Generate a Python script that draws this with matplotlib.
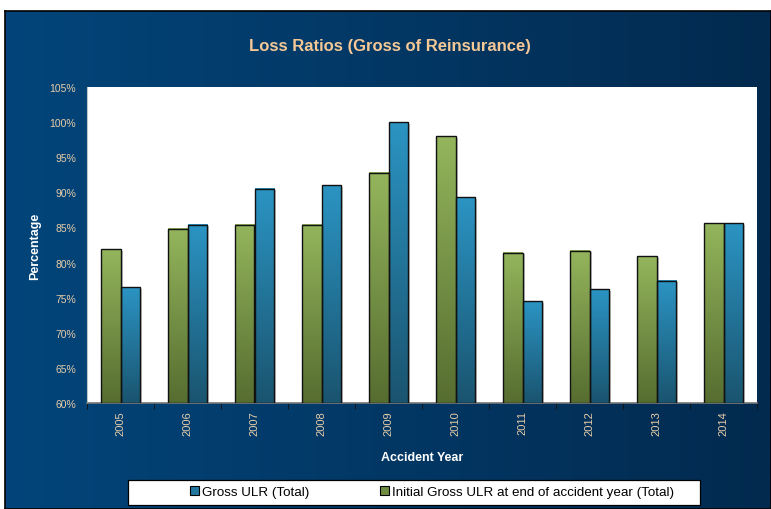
import matplotlib
matplotlib.use("Agg")
import matplotlib.pyplot as plt
import numpy as np
from matplotlib.colors import LinearSegmentedColormap
from matplotlib.patches import Rectangle

plt.rcParams['font.family'] = ['Liberation Sans', 'DejaVu Sans']

years = ['2005', '2006', '2007', '2008', '2009', '2010', '2011', '2012', '2013', '2014']
initial_ulr = [81.9, 84.8, 85.4, 85.4, 92.8, 98.0, 81.4, 81.7, 80.9, 85.6]
gross_ulr = [76.5, 85.4, 90.5, 91.0, 100.0, 89.3, 74.5, 76.2, 77.4, 85.6]

green_cmap = LinearSegmentedColormap.from_list('g', ['#566d30', '#94b55c'])
blue_cmap = LinearSegmentedColormap.from_list('b', ['#1a546f', '#2b94c3'])
bg_cmap = LinearSegmentedColormap.from_list('bg', ['#03457a', '#022a4f'])

fig = plt.figure(figsize=(7.71, 5.10), dpi=100)
fig.patch.set_facecolor('white')

# dark gradient panel behind everything
bg = fig.add_axes([5 / 771, 0, 766 / 771, 498 / 510])
grad = np.linspace(0, 1, 256).reshape(1, -1)
bg.imshow(grad, cmap=bg_cmap, aspect='auto', extent=[0, 1, 0, 1])
bg.set_xlim(0, 1)
bg.set_ylim(0, 1)
bg.set_xticks([])
bg.set_yticks([])
for s in bg.spines.values():
    s.set_color('black')
    s.set_linewidth(1.2)

ax = fig.add_axes([87 / 771, 1 - 404 / 510, 670 / 771, 316 / 510])
ax.set_facecolor('white')

x = np.arange(len(years))
w = 0.285
vgrad = np.linspace(0, 1, 256).reshape(-1, 1)


def gradient_bars(xs, vals, cmap):
    bars = ax.bar(xs, [v - 60 for v in vals], width=w, bottom=60,
                  facecolor='none', edgecolor='#111111', linewidth=1.0, zorder=4)
    for b in bars:
        x0, y0 = b.get_x(), b.get_y()
        bw, bh = b.get_width(), b.get_height()
        # soft shadow on the right
        ax.add_patch(Rectangle((x0 + 0.03, y0), bw, bh - 0.2, facecolor='#9a9a9a',
                               edgecolor='none', alpha=0.6, zorder=2))
        ax.imshow(vgrad, cmap=cmap, origin='lower', aspect='auto',
                  extent=[x0, x0 + bw, y0, y0 + bh], zorder=3)
    return bars


gradient_bars(x - w / 2, initial_ulr, green_cmap)
gradient_bars(x + w / 2, gross_ulr, blue_cmap)

ax.set_xlim(-0.5, len(years) - 0.5)
ax.set_ylim(60, 105)
ax.set_yticks(np.arange(60, 106, 5))
ax.set_yticklabels(['%d%%' % t for t in range(60, 106, 5)])
ax.set_xticks(x)
ax.set_xticklabels(years, rotation=90)
ax.set_xticks(np.arange(-0.5, len(years), 1), minor=True)
ax.tick_params(axis='x', which='major', length=0, pad=5, labelsize=8, colors='#e8cda8')
ax.tick_params(axis='x', which='minor', length=4, direction='out', color='#111111')
ax.tick_params(axis='y', length=0, pad=8, labelsize=7.5, colors='#e8cda8')
for lbl in ax.get_xticklabels() + ax.get_yticklabels():
    lbl.set_color('#e8cda8')

for side in ['top', 'right']:
    ax.spines[side].set_visible(False)
ax.spines['left'].set_color('#b8c8c8')
ax.spines['bottom'].set_color('#777777')
ax.spines['bottom'].set_linewidth(1.2)

ax.set_ylabel('Percentage', color='white', fontsize=9, fontweight='bold', labelpad=6)
ax.set_xlabel('Accident Year', color='white', fontsize=9, fontweight='bold', labelpad=12)

fig.text(0.506, 1 - 46 / 510, 'Loss Ratios (Gross of Reinsurance)', ha='center', va='center',
         color='#f5c896', fontsize=12, fontweight='bold')

# legend box
fig.patches.append(Rectangle((128 / 771, 1 - 506 / 510), 572 / 771, 25 / 510,
                             transform=fig.transFigure, facecolor='white',
                             edgecolor='black', linewidth=0.9, zorder=5))
handles = [Rectangle((0, 0), 1, 1, facecolor='#21789f', edgecolor='black', linewidth=0.8),
           Rectangle((0, 0), 1, 1, facecolor='#6f8c42', edgecolor='black', linewidth=0.8)]
leg = fig.legend(handles, ['Gross ULR (Total)', 'Initial Gross ULR at end of accident year (Total)'],
                 loc='center', bbox_to_anchor=(432 / 771, 1 - 493 / 510),
                 ncol=2, frameon=False, fontsize=9.6, handlelength=0.7, handleheight=0.7,
                 handletextpad=0.2, columnspacing=5.3)
leg.set_zorder(6)

fig.savefig('out.png', dpi=100)
